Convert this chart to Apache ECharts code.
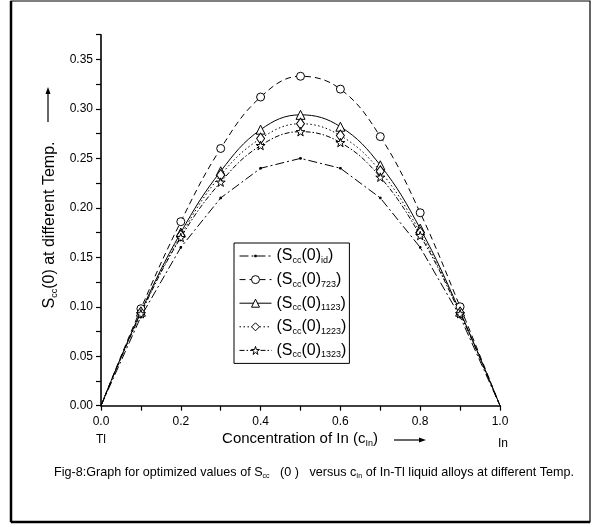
<!DOCTYPE html>
<html><head><meta charset="utf-8">
<script src="https://cdn.jsdelivr.net/npm/echarts@6/dist/echarts.min.js"></script>
<style>html,body{margin:0;padding:0;background:#fff}#c{width:592px;height:527px}</style>
</head><body><div id="c"></div><script>
// ---- data ----
const xValues = [0, 0.1, 0.2, 0.3, 0.4, 0.5, 0.6, 0.7, 0.8, 0.9, 1.0];
const sccIdeal = [0, 0.09, 0.16, 0.21, 0.24, 0.25, 0.24, 0.21, 0.16, 0.09, 0];
const scc723  = [0, 0.098, 0.186, 0.260, 0.312, 0.333, 0.320, 0.272, 0.195, 0.100, 0];
const scc1123 = [0, 0.095, 0.175, 0.237, 0.279, 0.294, 0.282, 0.243, 0.179, 0.095, 0];
const scc1223 = [0, 0.094, 0.172, 0.233, 0.270, 0.285, 0.273, 0.237, 0.175, 0.094, 0];
const scc1323 = [0, 0.093, 0.170, 0.226, 0.263, 0.277, 0.266, 0.231, 0.172, 0.093, 0];
const seriesSubs = ['id', '723', '1123', '1223', '1323'];
const xTickLabels = ['0.0', '0.2', '0.4', '0.6', '0.8', '1.0'];
const yTickLabels = ['0.00', '0.05', '0.10', '0.15', '0.20', '0.25', '0.30', '0.35'];

const FONT = 'Liberation Sans, Arial, sans-serif';
const STAR = 'path://M50,0 L61,35 L98,35 L68,57 L79,91 L50,70 L21,91 L32,57 L2,35 L39,35 Z';
const DOT = 'path://M0,0 M100,100 M40,40 L60,40 L60,60 L40,60 Z';

function pts(arr) {
  return arr.map((v, i) => {
    const item = { value: [xValues[i], v] };
    if (i === 0 || i === arr.length - 1) item.symbolSize = 0;
    return item;
  });
}
function mkSeries(name, arr, dash, symbol, size, smooth, fill) {
  return {
    name: name, type: 'line', data: pts(arr), smooth: smooth,
    symbol: symbol, symbolSize: size, symbolKeepAspect: true, showAllSymbol: true,
    lineStyle: { color: '#000', width: 1, type: dash },
    itemStyle: { color: fill, borderColor: '#000', borderWidth: 1 },
    emphasis: { disabled: true }, z: 3
  };
}
const series = [
  mkSeries(seriesSubs[0], sccIdeal, [9, 3, 2, 3], DOT, 8, false, '#000'),
  mkSeries(seriesSubs[1], scc723, [6, 4], 'circle', 8, 0.4, '#fff'),
  mkSeries(seriesSubs[2], scc1123, 'solid', 'triangle', 9, 0.4, '#fff'),
  mkSeries(seriesSubs[3], scc1223, [1.5, 2.5], 'diamond', [8, 11], 0.4, '#fff'),
  mkSeries(seriesSubs[4], scc1323, [5, 2, 1.5, 2], STAR, 9, 0.4, '#fff')
];

const chart = echarts.init(document.getElementById('c'), null, { renderer: 'canvas' });
const axisCommon = {
  type: 'value',
  axisLine: { show: true, onZero: false, lineStyle: { color: '#000', width: 1.6 } },
  axisTick: { show: true, inside: false, length: 5, lineStyle: { color: '#000', width: 1.2 } },
  splitLine: { show: false },
  axisLabel: { color: '#000', fontSize: 12, fontFamily: FONT }
};
const openStyle = { color: '#fff', borderColor: '#000', borderWidth: 1 };
chart.setOption({
  animation: false,
  backgroundColor: '#fff',
  grid: { left: 101, right: 92, top: 34.7, bottom: 121.3 },
  xAxis: Object.assign({}, axisCommon, {
    min: 0, max: 1, interval: 0.1,
    axisLabel: Object.assign({}, axisCommon.axisLabel, {
      margin: 10,
      formatter: v => { const k = Math.round(v * 10); return k % 2 === 0 ? xTickLabels[k / 2] : ''; }
    })
  }),
  yAxis: Object.assign({}, axisCommon, {
    min: 0, max: 0.375, interval: 0.025,
    axisLabel: Object.assign({}, axisCommon.axisLabel, {
      margin: 8,
      formatter: v => { const k = Math.round(v * 40); return k % 2 === 0 && k / 2 < yTickLabels.length ? yTickLabels[k / 2] : ''; }
    })
  }),
  legend: {
    orient: 'vertical', left: 234, top: 243,
    padding: [4, 3, 4, 5], itemWidth: 32, itemHeight: 10, itemGap: 5.6,
    borderColor: '#000', borderWidth: 1, backgroundColor: '#fff',
    selectedMode: false,
    lineStyle: { width: 1 },
    data: [
      { name: seriesSubs[0], itemStyle: { color: '#000', borderColor: '#000', borderWidth: 1 } },
      { name: seriesSubs[1], itemStyle: openStyle },
      { name: seriesSubs[2], itemStyle: openStyle },
      { name: seriesSubs[3], itemStyle: openStyle },
      { name: seriesSubs[4], itemStyle: openStyle }
    ],
    formatter: n => '{a|(S}{s|cc}{a|(0)}{s|' + n + '}{a|)}',
    textStyle: {
      color: '#000', fontFamily: FONT,
      rich: {
        a: { fontSize: 16, lineHeight: 20, fontFamily: FONT, color: '#000' },
        s: { fontSize: 9, lineHeight: 20, fontFamily: FONT, color: '#000', padding: [9, 0, 0, 0] }
      }
    }
  },
  series: series,
  graphic: [
    { type: 'rect', shape: { x: 11, y: 1, width: 579, height: 521 }, style: { fill: 'none', stroke: '#000', lineWidth: 1.2 }, silent: true },
    { type: 'line', shape: { x1: 11, y1: 1, x2: 11, y2: 522 }, style: { stroke: '#000', lineWidth: 2.5 }, silent: true },
    { type: 'line', shape: { x1: 11, y1: 522, x2: 590, y2: 522 }, style: { stroke: '#000', lineWidth: 2.5 }, silent: true },
    // y-axis title
    { type: 'text', x: 50, y: 225, rotation: Math.PI / 2, silent: true,
      style: { text: '{a|S}{s|cc}{a|(0) at different Temp.}', align: 'center', verticalAlign: 'middle',
        rich: { a: { fontSize: 16, fontFamily: FONT, fill: '#000', lineHeight: 20 },
                s: { fontSize: 9, fontFamily: FONT, fill: '#000', lineHeight: 20, padding: [9, 0, 0, 0] } } } },
    { type: 'line', shape: { x1: 48, y1: 122, x2: 48, y2: 94 }, style: { stroke: '#000', lineWidth: 1.2 }, silent: true },
    { type: 'polygon', shape: { points: [[48, 87], [45.5, 94], [50.5, 94]] }, style: { fill: '#000' }, silent: true },
    // x-axis title
    { type: 'text', x: 300, y: 439, silent: true,
      style: { text: '{a|Concentration of In (c}{s|In}{a|)}', align: 'center', verticalAlign: 'middle',
        rich: { a: { fontSize: 15, fontFamily: FONT, fill: '#000', lineHeight: 20 },
                s: { fontSize: 9, fontFamily: FONT, fill: '#000', lineHeight: 20, padding: [9, 0, 0, 0] } } } },
    { type: 'line', shape: { x1: 394, y1: 440, x2: 420, y2: 440 }, style: { stroke: '#000', lineWidth: 1.2 }, silent: true },
    { type: 'polygon', shape: { points: [[426, 440], [419, 437.5], [419, 442.5]] }, style: { fill: '#000' }, silent: true },
    { type: 'text', x: 101, y: 440, silent: true, style: { text: 'Tl', align: 'center', verticalAlign: 'middle', fontSize: 12, fontFamily: FONT, fill: '#000' } },
    { type: 'text', x: 503, y: 444, silent: true, style: { text: 'In', align: 'center', verticalAlign: 'middle', fontSize: 12, fontFamily: FONT, fill: '#000' } },
    // caption
    { type: 'text', x: 314, y: 473, silent: true,
      style: { text: '{a|Fig-8:Graph for optimized values of S}{s|cc}{a|   (0 )   versus c}{s|In}{a| of In-Tl liquid alloys at different Temp.}',
        align: 'center', verticalAlign: 'middle',
        rich: { a: { fontSize: 12.6, fontFamily: FONT, fill: '#000', lineHeight: 16 },
                s: { fontSize: 7, fontFamily: FONT, fill: '#000', lineHeight: 16, padding: [7, 0, 0, 0] } } } }
  ]
});
</script></body></html>
